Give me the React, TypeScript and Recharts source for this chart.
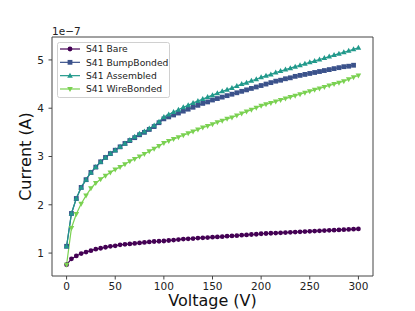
import { LineChart, Line, XAxis, YAxis } from "recharts";

const FONT = "'DejaVu Sans', sans-serif";

const voltages = [
  0, 5, 10, 15, 20, 25, 30, 35, 40, 45, 50, 55, 60, 65, 70, 75, 80, 85, 90, 95,
  100, 105, 110, 115, 120, 125, 130, 135, 140, 145, 150, 155, 160, 165, 170, 175, 180, 185, 190, 195,
  200, 205, 210, 215, 220, 225, 230, 235, 240, 245, 250, 255, 260, 265, 270, 275, 280, 285, 290, 295, 300,
];

// current in units of 1e-7 A
const bare = [
  0.76, 0.88, 0.94, 0.99, 1.02, 1.05, 1.08, 1.1, 1.12, 1.14, 1.15, 1.17, 1.18, 1.19, 1.2, 1.21, 1.22, 1.23, 1.24, 1.245,
  1.25, 1.26, 1.27, 1.28, 1.29, 1.295, 1.3, 1.31, 1.315, 1.32, 1.33, 1.335, 1.34, 1.35, 1.355, 1.36, 1.37, 1.375, 1.385, 1.39,
  1.4, 1.405, 1.41, 1.415, 1.42, 1.425, 1.43, 1.435, 1.44, 1.445, 1.45, 1.455, 1.46, 1.465, 1.47, 1.475, 1.48, 1.485, 1.49, 1.495, 1.5,
];

const bumpBonded = [
  1.14, 1.82, 2.13, 2.36, 2.52, 2.67, 2.78, 2.89, 2.98, 3.06, 3.13, 3.2, 3.27, 3.33, 3.39, 3.45, 3.5, 3.56, 3.62, 3.7,
  3.78, 3.82, 3.86, 3.9, 3.94, 3.98, 4.02, 4.06, 4.1, 4.13, 4.17, 4.2, 4.23, 4.26, 4.29, 4.32, 4.35, 4.38, 4.41, 4.44,
  4.47, 4.5, 4.53, 4.56, 4.58, 4.61, 4.63, 4.66, 4.68, 4.7, 4.72, 4.74, 4.76, 4.78, 4.8, 4.82, 4.84, 4.86, 4.87, 4.89, null,
];

const assembled = [
  1.14, 1.82, 2.13, 2.36, 2.52, 2.67, 2.78, 2.89, 2.98, 3.06, 3.13, 3.2, 3.27, 3.34, 3.41, 3.47, 3.52, 3.58, 3.64, 3.72,
  3.82, 3.87, 3.92, 3.97, 4.02, 4.06, 4.11, 4.15, 4.19, 4.23, 4.27, 4.31, 4.35, 4.38, 4.42, 4.46, 4.5, 4.53, 4.57, 4.6,
  4.64, 4.67, 4.7, 4.74, 4.77, 4.8, 4.83, 4.86, 4.89, 4.92, 4.95, 4.98, 5.01, 5.04, 5.07, 5.1, 5.13, 5.16, 5.19, 5.22, 5.25,
];

const wireBonded = [
  0.76, 1.52, 1.81, 2.02, 2.19, 2.34, 2.45, 2.53, 2.6, 2.67, 2.73, 2.78, 2.84, 2.9, 2.95, 3.0, 3.05, 3.11, 3.16, 3.22,
  3.28, 3.32, 3.36, 3.4, 3.44, 3.48, 3.52, 3.56, 3.6, 3.63, 3.67, 3.71, 3.74, 3.78, 3.81, 3.85, 3.89, 3.93, 3.97, 4.01,
  4.05, 4.08, 4.11, 4.14, 4.17, 4.2, 4.23, 4.26, 4.29, 4.32, 4.35, 4.38, 4.41, 4.44, 4.47, 4.5, 4.53, 4.56, 4.6, 4.64, 4.68,
];

const xTicks = [0, 50, 100, 150, 200, 250, 300];
const yTicks = [1, 2, 3, 4, 5];

const series = [
  { key: "bare", name: "S41 Bare", color: "#440154", shape: "circle" },
  { key: "bump", name: "S41 BumpBonded", color: "#3b528b", shape: "square" },
  { key: "assembled", name: "S41 Assembled", color: "#21998b", shape: "up" },
  { key: "wire", name: "S41 WireBonded", color: "#7ad151", shape: "down" },
];

const data = voltages.map((v, i) => ({
  v,
  bare: bare[i],
  bump: bumpBonded[i],
  assembled: assembled[i],
  wire: wireBonded[i],
}));

function marker(shape: string, color: string, cx: number, cy: number, key?: string) {
  if (shape === "circle") return <circle key={key} cx={cx} cy={cy} r={2.4} fill={color} />;
  if (shape === "square")
    return <rect key={key} x={cx - 2.4} y={cy - 2.4} width={4.8} height={4.8} fill={color} />;
  if (shape === "up")
    return <polygon key={key} points={`${cx},${cy - 3} ${cx - 2.8},${cy + 2} ${cx + 2.8},${cy + 2}`} fill={color} />;
  return <polygon key={key} points={`${cx},${cy + 3} ${cx - 2.8},${cy - 2} ${cx + 2.8},${cy - 2}`} fill={color} />;
}

function makeDot(shape: string, color: string) {
  return (p: any) => {
    if (p.cx == null || p.cy == null || p.value == null) return <g key={p.key} />;
    return marker(shape, color, p.cx, p.cy, p.key);
  };
}

const tickStyle = { fontSize: 10.5, fill: "#222", fontFamily: FONT };

export default function App() {
  return (
    <div style={{ position: "absolute", left: 0, top: 0, width: 415, height: 311, background: "#fff" }}>
      <LineChart width={415} height={311} data={data} margin={{ top: 36, right: 41, bottom: 34, left: 51 }}>
        <XAxis
          dataKey="v"
          type="number"
          domain={[-15, 315]}
          ticks={xTicks}
          height={1}
          tickSize={3.5}
          tickMargin={3.5}
          tick={tickStyle}
          stroke="#444"
          allowDataOverflow
        />
        <XAxis xAxisId="top" orientation="top" type="number" domain={[0, 1]} height={1} tick={false} tickLine={false} stroke="#444" />
        <YAxis
          type="number"
          domain={[0.525, 5.475]}
          ticks={yTicks}
          width={1}
          tickSize={3.5}
          tickMargin={4.5}
          tick={tickStyle}
          stroke="#444"
          allowDataOverflow
          label={{
            content: () => (
              <g fontFamily={FONT}>
                <text x={30.5} y={156.5} transform="rotate(-90 30.5 156.5)" textAnchor="middle" fontSize={16} fill="#111">
                  Current (A)
                </text>
                <text x={212.5} y={305.5} textAnchor="middle" fontSize={16} fill="#111">
                  Voltage (V)
                </text>
                <text x={52} y={34.5} fontSize={10.5} fill="#222">
                  1e−7
                </text>
              </g>
            ),
          }}
        />
        <YAxis yAxisId="right" orientation="right" type="number" domain={[0, 1]} width={1} tick={false} tickLine={false} stroke="#444" />
        {series.map((s) => (
          <Line
            key={s.key}
            dataKey={s.key}
            name={s.name}
            type="linear"
            stroke={s.color}
            strokeWidth={1.2}
            dot={makeDot(s.shape, s.color)}
            activeDot={false}
            isAnimationActive={false}
          />
        ))}
      </LineChart>
      <svg
        style={{ position: "absolute", left: 56.5, top: 41.5 }}
        width={113}
        height={56}
        fontFamily={FONT}
      >
        <rect x={0.5} y={0.5} width={112} height={55} rx={2} fill="rgba(255,255,255,0.85)" stroke="#d0d0d0" />
        {series.map((s, i) => {
          const cy = 7 + i * 13.33;
          return (
            <g key={s.key}>
              <line x1={3} x2={23} y1={cy} y2={cy} stroke={s.color} strokeWidth={1.2} />
              {marker(s.shape, s.color, 13, cy)}
              <text x={29} y={cy + 3.3} fontSize={9.2} fill="#222">
                {s.name}
              </text>
            </g>
          );
        })}
      </svg>
    </div>
  );
}
